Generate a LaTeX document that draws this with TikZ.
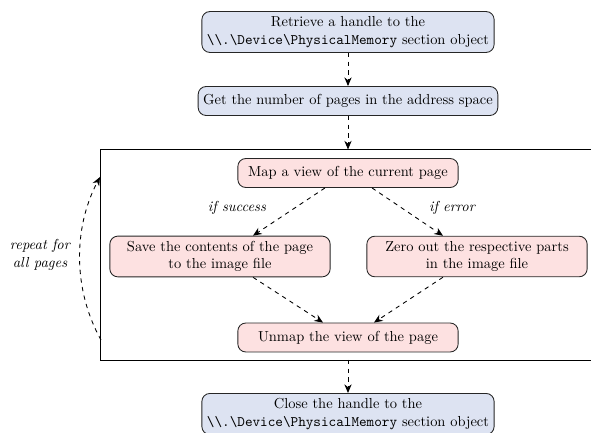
\documentclass[tikz,border=0pt]{standalone}
\usetikzlibrary{arrows.meta,calc}
\definecolor{bluebox}{RGB}{221,227,242}
\definecolor{pinkbox}{RGB}{253,225,225}
\newcommand{\physmem}{\texttt{\textbackslash\textbackslash.\textbackslash Device\textbackslash PhysicalMemory}}
\begin{document}
\begin{tikzpicture}[x=0.69pt,y=-0.69pt,
  box/.style={draw=black!85, line width=0.6pt, rounded corners=5.5pt, align=center, inner sep=3.5pt, minimum height=20pt},
  bluen/.style={box, fill=bluebox},
  pinkn/.style={box, fill=pinkbox, minimum width=152pt},
  flow/.style={dashed, line width=0.6pt, -{Stealth[length=6pt,width=5pt]}},
  lbl/.style={font=\itshape}]
\useasboundingbox (0,0) rectangle (591,433);
% frame
\draw[line width=0.6pt] (640,149.5) -- (100,149.5) -- (100,360) -- (640,360);
\coordinate (ftop) at (348,149.5);
\coordinate (fbot) at (348,360);
% nodes
\node[bluen] (retr) at (348,32) {Retrieve a handle to the\\ \physmem{} section object};
\node[bluen] (num) at (348,101) {Get the number of pages in the address space};
\node[pinkn] (map) at (348,173) {Map a view of the current page};
\node[pinkn] (save) at (220,256.5) {Save the contents of the page\\ to the image file};
\node[pinkn] (zero) at (477,256.5) {Zero out the respective parts\\ in the image file};
\node[pinkn] (unmap) at (348,337.5) {Unmap the view of the page};
\node[bluen] (close) at (348,414) {Close the handle to the\\ \physmem{} section object};
% labels
\node[lbl] (ls) at (237,208) {if success};
\node[lbl] (le) at (452,208) {if error};
\node[lbl, align=center] (rep) at (40,255) {repeat for\\ all pages};
% connectors
\draw[flow] (retr) -- (num);
\draw[flow] (num) -- (ftop);
\draw[flow] (fbot) -- (close);
\draw[flow] ($(map.south)+(-23,0)$) -- ($(save.north)+(33,0)$);
\draw[flow] ($(map.south)+(24,0)$) -- ($(zero.north)+(-34,0)$);
\draw[flow] ($(save.south)+(33,0)$) -- ($(unmap.north)+(-25,0)$);
\draw[flow] ($(zero.south)+(-34,0)$) -- ($(unmap.north)+(26,0)$);
\coordinate (rs) at (101,340);
\coordinate (re) at (100,177);
\draw[flow] (rs) .. controls (73,290) and (73,228) .. (re);
\end{tikzpicture}
\end{document}
